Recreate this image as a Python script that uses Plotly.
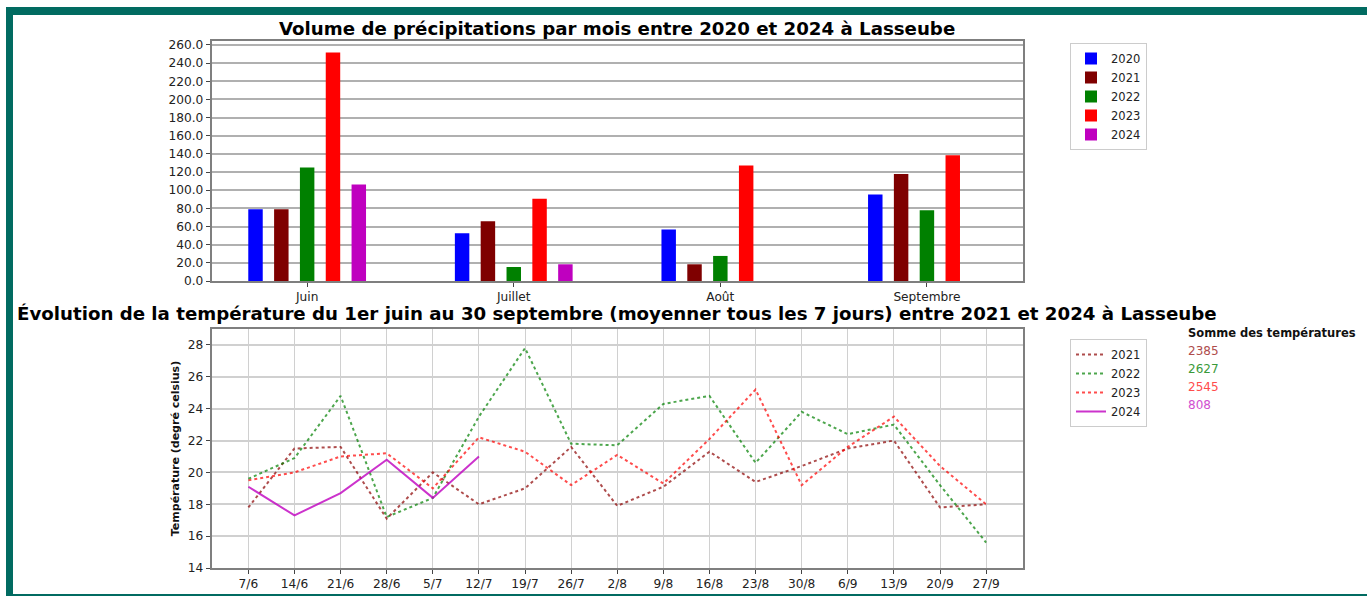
import plotly.graph_objects as go

W, H = 1367, 596

# ---------- data ----------
months = ["Juin", "Juillet", "Août", "Septembre"]
rain_years = ["2020", "2021", "2022", "2023", "2024"]
rain_2020 = [79, 52.6, 56.6, 95.2]
rain_2021 = [79, 65.8, 18.4, 117.7]
rain_2022 = [125, 15.4, 27.6, 78]
rain_2023 = [251.5, 90.5, 127.2, 138.6]
rain_2024 = [106.3, 18.4, None, None]
rain_values = [rain_2020, rain_2021, rain_2022, rain_2023, rain_2024]
rain_colors = ["#0000ff", "#7f0000", "#008000", "#ff0000", "#bf00bf"]

weeks = ["7/6", "14/6", "21/6", "28/6", "5/7", "12/7", "19/7", "26/7", "2/8",
         "9/8", "16/8", "23/8", "30/8", "6/9", "13/9", "20/9", "27/9"]
temp_2021 = [17.8, 21.5, 21.6, 17.1, 20.0, 18.0, 19.0, 21.6, 17.9, 19.1, 21.3,
             19.4, 20.4, 21.5, 22.0, 17.8, 18.0]
temp_2022 = [19.6, 20.9, 24.8, 17.2, 18.4, 23.5, 27.8, 21.8, 21.7, 24.3, 24.8,
             20.6, 23.8, 22.4, 23.0, 19.2, 15.6]
temp_2023 = [19.5, 20.0, 21.0, 21.2, 19.0, 22.2, 21.3, 19.2, 21.1, 19.3, 22.1,
             25.2, 19.2, 21.6, 23.5, 20.4, 18.0]
temp_2024 = [19.1, 17.3, 18.7, 20.8, 18.4, 21.0]
temp_years = ["2021", "2022", "2023", "2024"]
temp_values = [temp_2021, temp_2022, temp_2023, temp_2024]
temp_colors = ["rgba(139,0,0,0.7)", "rgba(0,128,0,0.7)", "rgba(255,0,0,0.7)", "rgba(191,0,191,0.8)"]
temp_dash = ["dot", "dot", "dot", "solid"]
temp_sums = ["2385", "2627", "2545", "808"]
sum_colors = ["#ae4c4c", "#3a9a3a", "#ff4c4c", "#d050d0"]

rain_ticks = [i * 20 for i in range(14)]
temp_ticks = list(range(14, 29, 2))

FONT = "DejaVu Sans"

def px_x(p):
    return p / W

def px_y(p):
    return 1 - p / H

fig = go.Figure()

for yr, vals, col in zip(rain_years, rain_values, rain_colors):
    fig.add_trace(go.Bar(x=months, y=vals, name=yr, marker_color=col,
                         marker_line_width=0, xaxis="x", yaxis="y",
                         legend="legend"))

for yr, vals, col, dash in zip(temp_years, temp_values, temp_colors, temp_dash):
    fig.add_trace(go.Scatter(x=weeks[:len(vals)], y=vals, name=yr, mode="lines",
                             line=dict(color=col, width=2, dash=dash),
                             xaxis="x2", yaxis="y2", legend="legend2"))

x_dom = [px_x(211.5), px_x(1023)]

axis_common = dict(showline=True, mirror=True, linecolor="#7f7f7f", linewidth=1.5,
                   ticks="outside", ticklen=4, tickcolor="#444", tickwidth=1,
                   automargin=False,
                   tickfont=dict(family=FONT, size=12.2, color="#222"))

fig.update_layout(
    width=W, height=H,
    margin=dict(l=0, r=0, t=0, b=0, autoexpand=False),
    paper_bgcolor="white", plot_bgcolor="white",
    barmode="group", bargap=0.375, bargroupgap=0.44,
    font=dict(family=FONT, color="#222"),
    xaxis=dict(domain=x_dom, anchor="y", type="category", range=[-0.463, 3.465],
               showgrid=False, **axis_common),
    yaxis=dict(domain=[px_y(281), px_y(41)], anchor="x", range=[0, 264.3],
               tickvals=rain_ticks, tickformat=".1f", showgrid=True,
               gridcolor="#b0b0b0", gridwidth=2, zeroline=False, **axis_common),
    xaxis2=dict(domain=x_dom, anchor="y2", type="category", range=[-0.8, 16.8],
                showgrid=True, gridcolor="#d0d0d0", gridwidth=1.2, **axis_common),
    yaxis2=dict(domain=[px_y(568), px_y(329)], anchor="x2", range=[14, 29],
                tickvals=temp_ticks, showgrid=True, gridcolor="#d0d0d0", gridwidth=1.5,
                zeroline=False,
                title=dict(text="<b>Température (degré celsius)</b>", standoff=6,
                           font=dict(family=FONT, size=11, color="#111")),
                **axis_common),
    legend=dict(x=px_x(1070), y=px_y(43), xanchor="left", yanchor="top",
                bordercolor="#cccccc", borderwidth=1, bgcolor="white",
                font=dict(family=FONT, size=11.5, color="#222"), tracegroupgap=0),
    legend2=dict(x=px_x(1070), y=px_y(339), xanchor="left", yanchor="top",
                 bordercolor="#cccccc", borderwidth=1, bgcolor="white",
                 font=dict(family=FONT, size=11.5, color="#222"), tracegroupgap=0),
)

# teal frame around the figure
fig.add_shape(type="rect", xref="paper", yref="paper", x0=px_x(6), x1=1.01,
              y0=-0.01, y1=px_y(7), fillcolor="#016b61", line_width=0, layer="below")
fig.add_shape(type="rect", xref="paper", yref="paper", x0=px_x(13), x1=1.01,
              y0=px_y(594), y1=px_y(15), fillcolor="white", line_width=0, layer="below")

fig.add_annotation(text="<b>Volume de précipitations par mois entre 2020 et 2024 à Lasseube</b>",
                   xref="paper", yref="paper", x=px_x(617), y=px_y(28), showarrow=False,
                   xanchor="center", yanchor="middle",
                   font=dict(family=FONT, size=18.2, color="black"))
fig.add_annotation(text="<b>Évolution de la température du 1er juin au 30 septembre (moyenner tous les 7 jours) entre 2021 et 2024 à Lasseube</b>",
                   xref="paper", yref="paper", x=px_x(617), y=px_y(313), showarrow=False,
                   xanchor="center", yanchor="middle",
                   font=dict(family=FONT, size=18.2, color="black"))
fig.add_annotation(text="<b>Somme des températures</b>", xref="paper", yref="paper",
                   x=px_x(1186), y=px_y(333), showarrow=False, xanchor="left",
                   yanchor="middle", font=dict(family=FONT, size=11.5, color="#111"))
for i, (s, c) in enumerate(zip(temp_sums, sum_colors)):
    fig.add_annotation(text=s, xref="paper", yref="paper", x=px_x(1186),
                       y=px_y(351 + 18 * i), showarrow=False, xanchor="left",
                       yanchor="middle", font=dict(family=FONT, size=12, color=c))

fig.write_html("out.html", config={"displayModeBar": False},
               post_script="document.body.style.margin='0';document.body.style.overflow='hidden';")
